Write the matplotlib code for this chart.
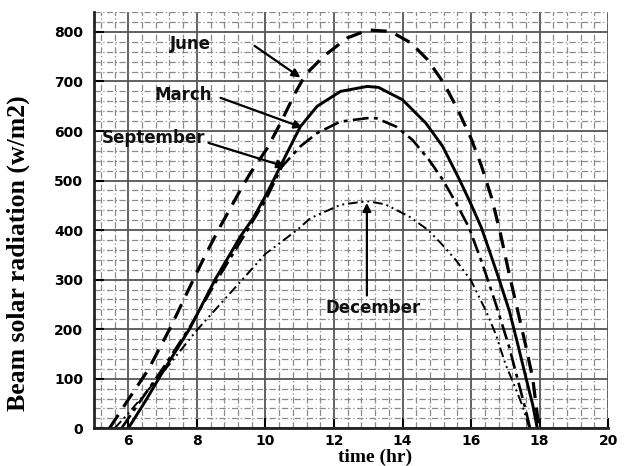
"""Beam solar radiation over the day for four representative months."""

import matplotlib

matplotlib.use("Agg", force=True)
import matplotlib.pyplot as plt
from matplotlib.ticker import MultipleLocator

# hour of day -> beam radiation (W/m2)
june_hr = [5.45, 6.0, 6.58, 7.22, 7.8, 8.25, 8.68, 9.27, 9.56, 10.05, 10.44,
           10.87, 11.17, 11.7, 12.39, 13.0, 13.65, 14.24, 14.73, 15.2, 15.6,
           16.0, 16.3, 16.6, 16.85, 17.1, 17.4, 17.6, 17.8, 17.98]
june_val = [0, 58, 118, 202, 286, 350, 407, 481, 515, 565, 616,
            677, 714, 751, 788, 804, 801, 778, 744, 697, 645,
            585, 530, 465, 395, 315, 225, 165, 100, 0]

march_hr = [6.0, 6.5, 6.98, 7.8, 8.53, 9.27, 9.65, 10.05, 10.53, 11.02, 11.51,
            12.19, 12.97, 13.3, 14.0, 14.68, 15.17, 15.66, 16.0, 16.3, 16.55,
            16.82, 17.12, 17.36, 17.6, 17.8, 17.93]
march_val = [0, 55, 111, 202, 300, 387, 425, 475, 542, 609, 650,
             680, 690, 688, 663, 616, 569, 502, 452, 405, 355,
             300, 236, 170, 102, 47, 0]

september_hr = [5.8, 6.5, 7.0, 7.8, 8.55, 9.3, 10.0, 10.48, 11.02, 11.51, 12.19,
                12.97, 13.23, 13.81, 14.29, 14.77, 15.17, 15.56, 15.94, 16.34,
                16.73, 17.12, 17.41, 17.6, 17.72]
september_val = [0, 70, 120, 205, 295, 380, 460, 528, 569, 596, 619,
                 626, 626, 609, 582, 542, 502, 455, 405, 330,
                 249, 162, 85, 35, 0]

december_hr = [5.6, 6.0, 7.0, 8.0, 9.0, 10.0, 10.92, 11.31, 12.19, 12.8, 13.0,
               13.5, 14.2, 14.73, 15.1, 15.55, 16.0, 16.44, 16.73, 17.01,
               17.26, 17.5, 17.7]
december_val = [0, 30, 112, 198, 275, 352, 400, 424, 451, 457, 458,
                452, 427, 401, 375, 340, 298, 236, 188, 128,
                87, 45, 0]

# label text, text anchor (hr, W/m2), arrow tip (hr, W/m2)
label_names = ["June", "March", "September", "December"]
label_text_xy = [(7.8, 776), (7.6, 673), (6.72, 586), (13.13, 243)]
label_tip_xy = [(11.02, 708), (11.08, 607), (10.58, 528), (12.96, 455)]
label_tail_xy = [(9.68, 772), (8.69, 667), (8.34, 576), (12.96, 268)]

rc = {
    "font.family": "sans-serif",
    "font.sans-serif": ["DejaVu Sans"],
    "font.size": 10,
    "font.weight": "bold",
    "axes.edgecolor": "#222222",
    "figure.facecolor": "white",
    "axes.facecolor": "white",
}

with plt.rc_context(rc):
    fig = plt.figure(figsize=(6.27, 4.66), dpi=100)
    ax = fig.add_axes([0.150, 0.081, 0.820, 0.893])

    ax.plot(june_hr, june_val, color="black", linewidth=2.3,
            linestyle=(0, (5, 3)))
    ax.plot(march_hr, march_val, color="black", linewidth=2.1,
            linestyle="-")
    ax.plot(september_hr, september_val, color="black", linewidth=1.9,
            linestyle=(0, (6, 2, 1.5, 2)))
    ax.plot(december_hr, december_val, color="black", linewidth=1.4,
            linestyle=(0, (5, 2, 1, 2, 1, 2)))

    for name, txt, tip, tail in zip(label_names, label_text_xy,
                                    label_tip_xy, label_tail_xy):
        ax.annotate("", xy=tip, xytext=tail,
                    arrowprops=dict(arrowstyle="-|>", color="black",
                                    lw=1.6, mutation_scale=12,
                                    shrinkA=0, shrinkB=0))
        ax.text(txt[0], txt[1], name, ha="center", va="center",
                fontsize=12, fontweight="bold", color="#111111")

    ax.set_xlim(5, 20)
    ax.set_ylim(0, 840)
    ax.set_xticks(range(6, 21, 2))
    ax.set_yticks(range(0, 801, 100))
    ax.xaxis.set_minor_locator(MultipleLocator(0.4))
    ax.yaxis.set_minor_locator(MultipleLocator(20))

    ax.grid(which="major", color="#555555", linewidth=1.3, linestyle="-")
    ax.grid(which="minor", color="#8a8a8a", linewidth=0.9,
            linestyle=(0, (5, 2, 1, 2)))
    ax.set_axisbelow(True)

    ax.tick_params(which="major", direction="in", length=7, width=1.5,
                   labelsize=10)
    ax.tick_params(axis="x", which="major", pad=4)
    ax.tick_params(axis="y", which="major", pad=8)
    ax.tick_params(which="minor", length=0)

    for side in ("top", "right"):
        ax.spines[side].set_visible(False)
    for side in ("left", "bottom"):
        ax.spines[side].set_linewidth(2.0)

    ax.set_xlabel("time (hr)", family="Liberation Serif", fontsize=14,
                  fontweight="bold")
    ax.xaxis.set_label_coords(0.547, -0.049)
    ax.set_ylabel("Beam solar radiation (w/m2)", family="Liberation Serif",
                  fontsize=18.5, fontweight="bold")
    ax.yaxis.set_label_coords(-0.125, 0.42)

    fig.savefig("out.png", dpi=100)
    plt.close(fig)
